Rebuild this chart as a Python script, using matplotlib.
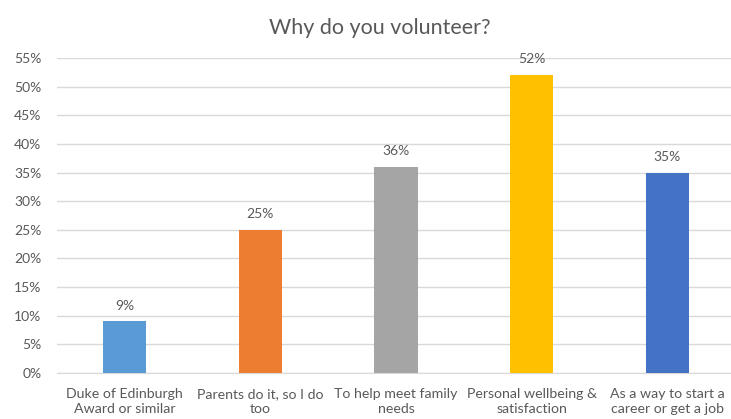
import numpy as np
import matplotlib
matplotlib.use('Agg')
import matplotlib.pyplot as plt
from matplotlib.ticker import FuncFormatter, MultipleLocator

plt.rcParams['font.family'] = ['Lato', 'DejaVu Sans']

# survey answers
reasons = ['Duke of Edinburgh\nAward or similar',
           'Parents do it, so I do\ntoo',
           'To help meet family\nneeds',
           'Personal wellbeing &\nsatisfaction',
           'As a way to start a\ncareer or get a job']
shares = [0.09, 0.25, 0.36, 0.52, 0.35]
colours = ['#5B9BD5', '#ED7D31', '#A5A5A5', '#FFC000', '#4472C4']

txt = '#595959'

fig = plt.figure(figsize=(7.31, 4.19), dpi=100)
ax = fig.add_axes([0.0776, 0.1098, 0.928, 0.7518])

x = np.arange(len(reasons))
bars = ax.bar(x, shares, width=0.32, color=colours, zorder=3)

for xi, v in zip(x, shares):
    ax.annotate('{:.0f}%'.format(v * 100), (xi, v), xytext=(0, 7),
                textcoords='offset points', ha='center', va='bottom',
                fontsize=10, color=txt)

ax.set_xlim(-0.5, len(reasons) - 0.5)
ax.set_ylim(0, 0.55)
ax.yaxis.set_major_locator(MultipleLocator(0.05))
ax.yaxis.set_major_formatter(FuncFormatter(lambda v, p: '{:.0f}%'.format(v * 100)))
ax.grid(axis='y', color='#D9D9D9', linewidth=1, zorder=0)

ax.set_xticks(x)
ax.set_xticklabels(reasons, fontsize=10.2, color=txt, linespacing=1.3)
ax.tick_params(axis='both', length=0, labelsize=10, labelcolor=txt)
ax.tick_params(axis='y', pad=11)
ax.tick_params(axis='x', pad=11, labelsize=10.2)

for s in ['top', 'right', 'left']:
    ax.spines[s].set_visible(False)
ax.spines['bottom'].set_color('#D9D9D9')

fig.text(0.52, 0.933, 'Why do you volunteer?', ha='center', va='center',
         fontsize=15.5, color=txt)

fig.savefig('out.png', dpi=100)
